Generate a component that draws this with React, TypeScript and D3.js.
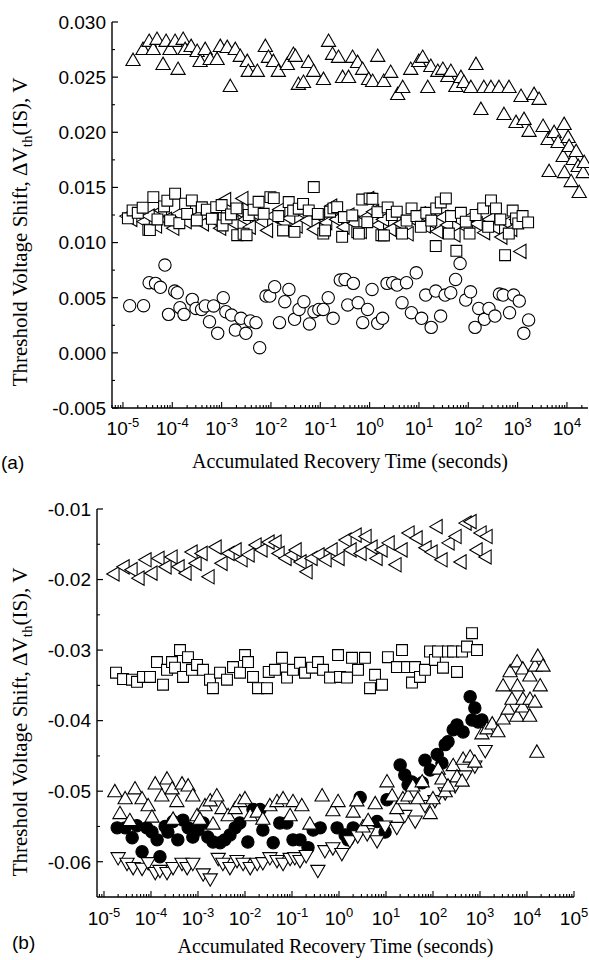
import React from 'react';
import * as d3 from 'd3';

// ---------- panel (a) : [time (s), dVth (V)] ----------
const aUpTri: [number, number][] = [
  [1.6e-5, 0.02643], [2.55e-5, 0.02743], [3.4e-5, 0.02816], [4.1e-5, 0.02743], [4.9e-5, 0.02834],
  [6.5e-5, 0.02607], [7.5e-5, 0.02816], [9.0e-5, 0.02743], [1.14e-4, 0.02816], [1.31e-4, 0.02562],
  [1.66e-4, 0.02834], [1.82e-4, 0.02743], [2.41e-4, 0.0277], [3.19e-4, 0.02725], [3.67e-4, 0.02634],
  [4.64e-4, 0.02743], [5.86e-4, 0.02652], [8.1e-4, 0.02652], [9.4e-4, 0.0277], [1.3e-3, 0.02761],
  [1.5e-3, 0.02407], [1.89e-3, 0.02743], [2.39e-3, 0.0268], [3.31e-3, 0.02634], [3.47e-3, 0.02544],
  [5.3e-3, 0.02544], [7.7e-3, 0.0277], [8.9e-3, 0.02671], [1.12e-2, 0.02634], [1.41e-2, 0.02544],
  [2.15e-2, 0.02607], [2.85e-2, 0.02698], [3.13e-2, 0.0268], [3.6e-2, 0.02426], [4.56e-2, 0.02444],
  [5.75e-2, 0.02625], [7.3e-2, 0.02544], [0.116, 0.02471], [0.147, 0.02816], [0.177, 0.02698],
  [0.234, 0.02671], [0.283, 0.02489], [0.374, 0.02489], [0.451, 0.02671], [0.57, 0.02625],
  [0.721, 0.02562], [0.955, 0.02471], [1.15, 0.02453], [1.46, 0.0268], [1.93, 0.02453],
  [2.67, 0.02535], [3.71, 0.02335], [4.69, 0.02398], [6.81, 0.02562], [9.9, 0.02634],
  [11.9, 0.02671], [15.1, 0.02398], [17.4, 0.02589], [24.1, 0.02544], [30.5, 0.02562],
  [38.5, 0.02498], [44.3, 0.02544], [56.0, 0.02407], [70.8, 0.02489], [81.5, 0.02444],
  [113, 0.02398], [143, 0.02607], [180, 0.02199], [207, 0.02398], [288, 0.02398],
  [419, 0.02398], [529, 0.02153], [669, 0.02398], [928, 0.02081], [1172, 0.02317],
  [1349, 0.02108], [1705, 0.02], [2155, 0.02335], [2722, 0.0229], [3281, 0.02045],
  [4149, 0.01927], [4348, 0.01636], [5495, 0.0199], [6622, 0.019], [8375, 0.01772],
  [8770, 0.02063], [8900, 0.01626], [10570, 0.01945], [11080, 0.01863], [12170, 0.01545],
  [13360, 0.01745], [15380, 0.01818], [16890, 0.01682], [17710, 0.01446], [21330, 0.01626],
  [22390, 0.01718],
];

const aLeftTri: [number, number][] = [
  [1.26e-5, 0.0124], [1.58e-5, 0.0121], [2.0e-5, 0.0127], [2.82e-5, 0.0119], [3.55e-5, 0.0124],
  [5.01e-5, 0.0115], [6.31e-5, 0.0129], [7.94e-5, 0.0121], [1.12e-4, 0.0113], [1.41e-4, 0.0126],
  [2.0e-4, 0.0119], [2.51e-4, 0.0131], [3.16e-4, 0.0123], [4.47e-4, 0.0117], [5.62e-4, 0.0128],
  [7.08e-4, 0.0121], [1.0e-3, 0.0113], [1.26e-3, 0.0139], [1.78e-3, 0.0118], [2.24e-3, 0.0129],
  [2.82e-3, 0.014], [3.16e-3, 0.0121], [3.98e-3, 0.0114], [5.01e-3, 0.0126], [7.08e-3, 0.0119],
  [8.91e-3, 0.0111], [1.12e-2, 0.0124], [1.58e-2, 0.013], [2.0e-2, 0.0118], [2.51e-2, 0.0122],
  [3.55e-2, 0.0115], [4.47e-2, 0.0127], [5.62e-2, 0.012], [7.94e-2, 0.0112], [0.1, 0.0124],
  [0.141, 0.0118], [0.178, 0.0133], [0.224, 0.0121], [0.316, 0.0114], [0.398, 0.0125],
  [0.501, 0.0118], [0.708, 0.011], [0.891, 0.0123], [1.0, 0.014], [1.26, 0.0128],
  [1.58, 0.0116], [2.0, 0.0121], [2.82, 0.0112], [3.55, 0.0124], [4.47, 0.0117],
  [6.31, 0.0108], [7.94, 0.0121], [11.2, 0.0126], [14.1, 0.0115], [17.8, 0.0119],
  [25.1, 0.011], [31.6, 0.0123], [39.8, 0.0116], [56.2, 0.0107], [70.8, 0.012],
  [100, 0.0113], [126, 0.0124], [158, 0.0117], [224, 0.0109], [282, 0.0121],
  [355, 0.0114], [501, 0.0105], [631, 0.0118], [794, 0.0112], [1000, 0.0121], [1220, 0.0092],
];

const aSquare: [number, number][] = [
  [1.26e-5, 0.0122], [1.57e-5, 0.01291], [2.0e-5, 0.0127], [2.51e-5, 0.01316], [3.27e-5, 0.01116],
  [3.52e-5, 0.01113], [4.13e-5, 0.01412], [5.01e-5, 0.0121], [6.81e-5, 0.01328], [7.94e-5, 0.0138],
  [9.02e-5, 0.01201], [1.14e-4, 0.01443], [1.39e-4, 0.01176], [1.82e-4, 0.01352], [2.0e-4, 0.0126],
  [2.49e-4, 0.01382], [3.15e-4, 0.01201], [3.98e-4, 0.0132], [5.02e-4, 0.01298], [6.35e-4, 0.01216],
  [7.76e-4, 0.01321], [1.0e-3, 0.0134], [1.05e-3, 0.01155], [1.26e-3, 0.0122], [1.55e-3, 0.01255],
  [2.0e-3, 0.0131], [2.07e-3, 0.01067], [2.79e-3, 0.0108], [3.21e-3, 0.01067], [3.55e-3, 0.0125],
  [4.45e-3, 0.01298], [5.62e-3, 0.0137], [7.11e-3, 0.01261], [9.73e-3, 0.01412], [1.14e-2, 0.01403],
  [1.41e-2, 0.0124], [1.76e-2, 0.0111], [2.29e-2, 0.01367], [2.82e-2, 0.0129], [3.0e-2, 0.01097],
  [3.66e-2, 0.01307], [4.47e-2, 0.0135], [5.83e-2, 0.01291], [7.38e-2, 0.01503], [8.91e-2, 0.0126],
  [0.115, 0.01082], [0.125, 0.0111], [0.158, 0.0128], [0.185, 0.0131], [0.22, 0.01321],
  [0.277, 0.01052], [0.301, 0.01231], [0.445, 0.01246], [0.562, 0.01094], [0.607, 0.01082],
  [0.708, 0.0139], [0.897, 0.01185], [1.0, 0.014], [1.14, 0.01397], [1.44, 0.01276],
  [1.73, 0.01067], [1.95, 0.01065], [2.32, 0.01319], [2.82, 0.0125], [3.55, 0.0128],
  [4.54, 0.01082], [5.62, 0.012], [7.08, 0.0131], [8.91, 0.0124], [10.9, 0.01143],
  [14.1, 0.0127], [17.8, 0.012], [21.9, 0.00968], [22.4, 0.0131], [27.7, 0.01364],
  [35.1, 0.014], [40.4, 0.01082], [44.7, 0.0124], [57.3, 0.00925], [70.8, 0.0127],
  [89.1, 0.0119], [106, 0.01082], [141, 0.0125], [200, 0.0131], [253, 0.01143],
  [288, 0.01382], [364, 0.0131], [447, 0.0121], [556, 0.00886], [662, 0.01082],
  [794, 0.0129], [927, 0.01219], [1030, 0.01173], [1260, 0.0124], [1630, 0.01183],
];

const aCircle: [number, number][] = [
  [1.37e-5, 0.00428], [2.62e-5, 0.00428], [3.4e-5, 0.00636], [4.58e-5, 0.0063], [5.74e-5, 0.00594],
  [7.1e-5, 0.00796], [8.4e-5, 0.00349], [1.12e-4, 0.0056], [1.26e-4, 0.00545], [1.43e-4, 0.0041],
  [1.73e-4, 0.00349], [2.54e-4, 0.00485], [3.03e-4, 0.00403], [3.93e-4, 0.00394], [4.68e-4, 0.00425],
  [5.68e-4, 0.00283], [6.88e-4, 0.00425], [8.33e-4, 0.00177], [1.08e-3, 0.005], [1.22e-3, 0.00373],
  [1.59e-3, 0.00343], [1.9e-3, 0.00207], [2.47e-3, 0.00313], [3.1e-3, 0.00177], [3.82e-3, 0.00289],
  [4.97e-3, 0.00274], [5.91e-3, 0.00047], [7.95e-3, 0.00515], [9.47e-3, 0.00515], [1.19e-2, 0.006],
  [1.49e-2, 0.00274], [1.91e-2, 0.00464], [2.31e-2, 0.00575], [3.01e-2, 0.00304], [3.71e-2, 0.00394],
  [4.65e-2, 0.00464], [6.04e-2, 0.00262], [7.45e-2, 0.00373], [9.35e-2, 0.00394], [0.115, 0.00394],
  [0.145, 0.005], [0.182, 0.00313], [0.254, 0.0066], [0.318, 0.00666], [0.36, 0.00434],
  [0.468, 0.0063], [0.586, 0.00455], [0.724, 0.00274], [0.909, 0.00394], [1.12, 0.00575],
  [1.46, 0.00268], [1.83, 0.00313], [2.26, 0.0063], [2.93, 0.00636], [3.61, 0.00615],
  [4.54, 0.00455], [5.6, 0.00636], [7.03, 0.00364], [8.82, 0.00726], [11.3, 0.00313],
  [13.7, 0.00524], [17.7, 0.00231], [21.9, 0.0056], [27.5, 0.00334], [33.9, 0.00524],
  [44.1, 0.00545], [55.3, 0.00666], [68.2, 0.00811], [88.7, 0.00479], [111, 0.00554],
  [137, 0.00231], [163, 0.00403], [212, 0.00304], [262, 0.00403], [347, 0.00334],
  [428, 0.00533], [509, 0.00524], [686, 0.00364], [832, 0.00524], [1080, 0.0047],
  [1333, 0.00177], [1670, 0.00298],
];

// ---------- panel (b) ----------
const bLeftTri: [number, number][] = [
  [1.71e-5, -0.0192], [2.8e-5, -0.0182], [4.14e-5, -0.0186], [5.83e-5, -0.0198], [8.2e-5, -0.0172],
  [1.1e-4, -0.0191], [1.55e-4, -0.017], [2.19e-4, -0.0182], [2.94e-4, -0.0168], [4.14e-4, -0.0182],
  [5.83e-4, -0.0191], [7.83e-4, -0.0161], [9.53e-4, -0.0177], [1.28e-3, -0.0163], [1.8e-3, -0.0196],
  [2.54e-3, -0.0154], [3.4e-3, -0.0177], [4.8e-3, -0.0163], [6.76e-3, -0.0158], [9.06e-3, -0.0172],
  [1.28e-2, -0.0165], [1.8e-2, -0.0151], [2.41e-2, -0.0158], [3.4e-2, -0.0147], [4.8e-2, -0.0147],
  [5.56e-2, -0.0163], [7.83e-2, -0.017], [0.105, -0.0165], [0.128, -0.0158], [0.163, -0.0175],
  [0.219, -0.0189], [0.28, -0.017], [0.394, -0.0165], [0.556, -0.0172], [0.745, -0.0158],
  [1.05, -0.017], [1.48, -0.0144], [1.89, -0.0158], [2.42, -0.0137], [3.09, -0.0163],
  [3.94, -0.0139], [5.29, -0.0154], [6.76, -0.017], [8.63, -0.0158], [12.2, -0.0148],
  [17.1, -0.0179], [23.0, -0.0158], [32.4, -0.0134], [48.0, -0.0141], [74.5, -0.0155],
  [100, -0.0161], [128, -0.0125], [163, -0.0172], [230, -0.0148], [324, -0.0139],
  [414, -0.0175], [529, -0.012], [676, -0.0118], [906, -0.0158], [1104, -0.0134],
  [1410, -0.0168], [1480, -0.0139],
];

const bSquare: [number, number][] = [
  [1.8e-5, -0.0332], [2.54e-5, -0.0341], [3.94e-5, -0.0342], [5.04e-5, -0.0345], [6.76e-5, -0.0338],
  [9.53e-5, -0.0338], [1.34e-4, -0.0317], [1.8e-4, -0.0349], [2.19e-4, -0.0328], [2.8e-4, -0.0317],
  [3.24e-4, -0.0325], [4.14e-4, -0.03], [4.8e-4, -0.0338], [6.12e-4, -0.031], [7.45e-4, -0.0328],
  [9.53e-4, -0.0321], [1.28e-3, -0.0328], [1.8e-3, -0.0342], [2.08e-3, -0.0354], [2.94e-3, -0.0332],
  [4.14e-3, -0.0342], [5.56e-3, -0.0324], [7.83e-3, -0.0332], [1.0e-2, -0.0307], [1.16e-2, -0.0317],
  [1.48e-2, -0.0338], [1.89e-2, -0.0354], [2.94e-2, -0.0354], [3.2e-2, -0.0331], [4.34e-2, -0.0328],
  [6.12e-2, -0.0311], [7.83e-2, -0.0339], [0.105, -0.0328], [0.148, -0.0318], [0.189, -0.0332],
  [0.267, -0.0325], [0.357, -0.0317], [0.457, -0.0328], [0.644, -0.0339], [0.953, -0.0307],
  [1.05, -0.0338], [1.48, -0.0339], [1.89, -0.0311], [2.54, -0.0328], [3.57, -0.0311],
  [4.57, -0.0354], [5.84, -0.0335], [8.22, -0.0349], [11.0, -0.031], [17.1, -0.0324],
  [21.9, -0.03], [28.0, -0.0324], [35.7, -0.0346], [41.4, -0.0324], [52.8, -0.0338],
  [67.6, -0.0328], [86.3, -0.0302], [110, -0.0314], [128, -0.0302], [163, -0.0325],
  [208, -0.0302], [267, -0.0302], [324, -0.0331], [414, -0.0302], [529, -0.0295],
  [676, -0.0276], [863, -0.03],
];

const bCircle: [number, number][] = [
  [1.91e-5, -0.0552], [2.82e-5, -0.0552], [3.98e-5, -0.0566], [5.01e-5, -0.0549], [6.46e-5, -0.0586],
  [8.13e-5, -0.0552], [1.05e-4, -0.0558], [1.35e-4, -0.0569], [1.55e-4, -0.0593], [2.0e-4, -0.055],
  [2.29e-4, -0.0558], [2.95e-4, -0.0543], [3.72e-4, -0.0569], [4.79e-4, -0.0541], [6.17e-4, -0.0552],
  [7.76e-4, -0.0565], [1.0e-3, -0.0555], [1.29e-3, -0.0545], [1.62e-3, -0.0565], [2.09e-3, -0.0572],
  [2.95e-3, -0.0573], [3.72e-3, -0.0569], [4.79e-3, -0.0562], [6.17e-3, -0.0552], [7.76e-3, -0.0545],
  [1.15e-2, -0.0572], [1.48e-2, -0.0526], [2.09e-2, -0.0526], [2.4e-2, -0.0555], [3.98e-2, -0.0573],
  [5.5e-2, -0.0545], [7.76e-2, -0.0545], [0.105, -0.0569], [0.148, -0.0569], [0.219, -0.058],
  [0.282, -0.0555], [0.398, -0.0552], [0.912, -0.0552], [1.35, -0.0562], [1.55, -0.0569],
  [2.0, -0.0552], [2.82, -0.0509], [6.46, -0.0543], [9.55, -0.0558], [10.5, -0.0512],
  [20.0, -0.0463], [25.1, -0.0477], [29.5, -0.0491], [35.5, -0.0487], [58.9, -0.0488],
  [67.6, -0.0456], [87.1, -0.047], [123, -0.0448], [155, -0.046], [182, -0.0434],
  [209, -0.043], [269, -0.0413], [324, -0.0406], [437, -0.0416], [617, -0.0366],
  [676, -0.0399], [776, -0.0382], [912, -0.0402], [1100, -0.0399],
];

const bDownTri: [number, number][] = [
  [2.0e-5, -0.0593], [3.09e-5, -0.0601], [4.17e-5, -0.0607], [6.46e-5, -0.0608], [8.71e-5, -0.06],
  [1.23e-4, -0.0614], [1.55e-4, -0.0611], [2.19e-4, -0.0614], [2.95e-4, -0.0607], [4.57e-4, -0.0601],
  [5.89e-4, -0.0607], [7.76e-4, -0.0601], [1.29e-3, -0.0616], [1.82e-3, -0.0623], [2.69e-3, -0.0594],
  [3.39e-3, -0.0601], [4.79e-3, -0.0607], [6.76e-3, -0.0597], [9.12e-3, -0.0601], [1.29e-2, -0.0607],
  [1.82e-2, -0.0601], [2.4e-2, -0.06], [3.39e-2, -0.0593], [4.79e-2, -0.0597], [6.46e-2, -0.0601],
  [9.12e-2, -0.0594], [0.115, -0.0593], [0.148, -0.0597], [0.2, -0.059], [0.355, -0.0611],
  [0.501, -0.0583], [0.741, -0.0579], [1.15, -0.0587], [1.7, -0.0569], [2.51, -0.0562],
  [3.98, -0.0559], [6.46, -0.0569], [9.55, -0.0548], [17.0, -0.055], [25.1, -0.0533],
  [41.7, -0.0541], [67.6, -0.0519], [110, -0.0512], [182, -0.0501], [295, -0.0491],
  [479, -0.0477], [776, -0.0463], [1290, -0.0441],
];

const bUpTri: [number, number][] = [
  [1.7e-5, -0.0502], [2.19e-5, -0.0533], [2.82e-5, -0.0512], [3.55e-5, -0.0543], [4.57e-5, -0.0498],
  [6.46e-5, -0.0512], [8.71e-5, -0.0522], [1.05e-4, -0.0538], [1.23e-4, -0.0491], [1.7e-4, -0.0508],
  [2.19e-4, -0.0484], [2.82e-4, -0.0498], [2.95e-4, -0.0541], [3.55e-4, -0.0516], [4.57e-4, -0.0491],
  [6.17e-4, -0.0494], [7.76e-4, -0.0508], [9.55e-4, -0.0536], [1.1e-3, -0.0541], [1.41e-3, -0.0522],
  [1.82e-3, -0.0515], [2.09e-3, -0.0548], [2.51e-3, -0.0508], [3.24e-3, -0.0526], [4.37e-3, -0.0536],
  [6.17e-3, -0.0526], [7.76e-3, -0.0516], [1.0e-2, -0.0512], [1.29e-2, -0.0536], [1.82e-2, -0.0531],
  [2.4e-2, -0.0541], [3.39e-2, -0.0522], [4.79e-2, -0.0516], [6.46e-2, -0.0512], [9.12e-2, -0.0536],
  [0.105, -0.0516], [0.162, -0.0522], [0.24, -0.0548], [0.437, -0.0508], [0.741, -0.0529],
  [0.955, -0.0516], [2.0, -0.0531], [2.4, -0.0515], [3.24, -0.0552], [4.17, -0.0543],
  [5.89, -0.0519], [10.5, -0.0488], [13.5, -0.0508], [17.0, -0.0526], [22.9, -0.0512],
  [29.5, -0.0508], [37.2, -0.0494], [47.9, -0.0512], [58.9, -0.0488], [87.1, -0.0533],
  [100, -0.0512], [129, -0.047], [155, -0.0484], [182, -0.0502], [209, -0.0494],
  [269, -0.0465], [324, -0.0481], [417, -0.0487], [437, -0.0456], [617, -0.0453],
  [776, -0.046], [1100, -0.042], [1410, -0.0413], [1820, -0.0406], [2400, -0.0417],
  [3090, -0.0399], [3100, -0.0352], [3980, -0.0385], [4370, -0.0332], [4790, -0.0371],
  [6100, -0.0395], [6170, -0.0318], [6250, -0.0352], [8050, -0.0382], [8130, -0.0328],
  [8200, -0.0371], [11400, -0.0395], [11500, -0.0338], [11600, -0.0371], [14700, -0.0375],
  [14800, -0.0324], [16200, -0.0446], [17000, -0.031], [19100, -0.0352], [21900, -0.0324],
];

// tick labels
const aYTicks = [-0.005, 0.0, 0.005, 0.01, 0.015, 0.02, 0.025, 0.03];
const bYTicks = [-0.06, -0.05, -0.04, -0.03, -0.02, -0.01];
const aXExps = [-5, -4, -3, -2, -1, 0, 1, 2, 3, 4];
const bXExps = [-5, -4, -3, -2, -1, 0, 1, 2, 3, 4, 5];

const SANS = "'Liberation Sans', Arial, sans-serif";
const SERIF = "'Liberation Serif', 'Times New Roman', serif";

const shapes = {
  up: { path: d3.symbol(d3.symbolTriangle, 88)(), rot: 0 },
  down: { path: d3.symbol(d3.symbolTriangle, 88)(), rot: 180 },
  left: { path: d3.symbol(d3.symbolTriangle, 88)(), rot: -90 },
  square: { path: d3.symbol(d3.symbolSquare, 118)(), rot: 0 },
  circle: { path: d3.symbol(d3.symbolCircle, 120)(), rot: 0 },
};

type Series = { data: [number, number][]; shape: keyof typeof shapes; fill?: string };

function Marks({ s, x, y }: { s: Series; x: any; y: any }) {
  const sh = shapes[s.shape];
  return (
    <g>
      {s.data.map(([t, v], i) => (
        <path
          key={i}
          d={sh.path as string}
          transform={`translate(${x(t)},${y(v)}) rotate(${sh.rot})`}
          fill={s.fill || '#fff'}
          stroke="#000"
          strokeWidth={1.1}
        />
      ))}
    </g>
  );
}

function Panel(props: {
  x: any;
  y: any;
  yTicks: number[];
  yFmt: (v: number) => string;
  xExps: number[];
  series: Series[];
  label: string;
  labelX: number;
  labelY: number;
  titleY: number;
  yTitleY: number;
  xLabelY: number;
}) {
  const { x, y, yTicks, yFmt, xExps, series } = props;
  const [x0, x1] = x.range();
  const [y0, y1] = y.range(); // y0 bottom, y1 top
  const step = yTicks[1] - yTicks[0];
  const yMinor = yTicks.map((v) => v + step / 2).filter((v) => y(v) > y1 + 0.5);
  const yMinorLow = yTicks[0] - step / 2;
  if (y(yMinorLow) < y0 - 0.5) yMinor.push(yMinorLow);
  const xt = x.ticks(60).filter((t: number) => x(t) >= x0 && x(t) <= x1);
  const isMajor = (t: number) => Math.abs(Math.log10(t) - Math.round(Math.log10(t))) < 1e-6;
  const xMid = (x0 + x1) / 2;
  return (
    <g>
      {series.map((s, i) => (
        <Marks key={i} s={s} x={x} y={y} />
      ))}
      <line x1={x0} x2={x0} y1={y0} y2={y1} stroke="#000" strokeWidth={1.4} />
      <line x1={x0} x2={x1} y1={y0} y2={y0} stroke="#000" strokeWidth={1.4} />
      {yTicks.map((v) => (
        <g key={v}>
          <line x1={x0} x2={x0 + 6} y1={y(v)} y2={y(v)} stroke="#000" strokeWidth={1.2} />
          <text
            x={x0 - 6}
            y={y(v)}
            dy="0.36em"
            textAnchor="end"
            fontFamily={SANS}
            fontSize={19}
          >
            {yFmt(v)}
          </text>
        </g>
      ))}
      {yMinor.map((v) => (
        <line key={v} x1={x0} x2={x0 + 3} y1={y(v)} y2={y(v)} stroke="#000" strokeWidth={1.1} />
      ))}
      {xt.map((t: number) => (
        <line
          key={t}
          x1={x(t)}
          x2={x(t)}
          y1={y0}
          y2={y0 - (isMajor(t) ? 6 : 3)}
          stroke="#000"
          strokeWidth={1.1}
        />
      ))}
      {xExps.map((e) => (
        <text
          key={e}
          x={x(Math.pow(10, e))}
          y={props.xLabelY}
          textAnchor="middle"
          fontFamily={SANS}
          fontSize={19}
        >
          10
          <tspan dy={-8} fontSize={13}>
            {e < 0 ? '-' + Math.abs(e) : String(e)}
          </tspan>
        </text>
      ))}
      <text x={xMid} y={props.titleY} textAnchor="middle" fontFamily={SERIF} fontSize={20}>
        Accumulated Recovery Time (seconds)
      </text>
      <text
        transform={`translate(27,${props.yTitleY}) rotate(-90)`}
        textAnchor="middle"
        fontFamily={SERIF}
        fontSize={21}
      >
        Threshold Voltage Shift, ΔV
        <tspan dy={5} fontSize={15}>
          th
        </tspan>
        <tspan dy={-5}>(IS), V</tspan>
      </text>
      <text x={props.labelX} y={props.labelY} fontFamily={SANS} fontSize={19}>
        {props.label}
      </text>
    </g>
  );
}

export default function App() {
  const ax = d3.scaleLog().domain([6e-6, 2.67e4]).range([112, 588]);
  const ay = d3.scaleLinear().domain([-0.005, 0.03]).range([408, 22]);
  const bx = d3.scaleLog().domain([7.1e-6, 1e5]).range([97, 574]);
  const by = d3.scaleLinear().domain([-0.065, -0.01]).range([897, 509]);
  const fmtA = (v: number) => d3.format('.3f')(v).replace('−', '-');
  const fmtB = (v: number) => d3.format('.2f')(v).replace('−', '-');

  return (
    <svg
      width={589}
      height={960}
      style={{ position: 'absolute', left: 0, top: 0, background: '#fff' }}
    >
      <rect width={589} height={960} fill="#fff" />
      <Panel
        x={ax}
        y={ay}
        yTicks={aYTicks}
        yFmt={fmtA}
        xExps={aXExps}
        series={[
          { data: aUpTri, shape: 'up' },
          { data: aLeftTri, shape: 'left' },
          { data: aSquare, shape: 'square' },
          { data: aCircle, shape: 'circle' },
        ]}
        label="(a)"
        labelX={1}
        labelY={469}
        titleY={468}
        yTitleY={232}
        xLabelY={435}
      />
      <Panel
        x={bx}
        y={by}
        yTicks={bYTicks}
        yFmt={fmtB}
        xExps={bXExps}
        series={[
          { data: bLeftTri, shape: 'left' },
          { data: bSquare, shape: 'square' },
          { data: bCircle, shape: 'circle', fill: '#000' },
          { data: bDownTri, shape: 'down' },
          { data: bUpTri, shape: 'up' },
        ]}
        label="(b)"
        labelX={12}
        labelY={949}
        titleY={953}
        yTitleY={722}
        xLabelY={925}
      />
    </svg>
  );
}
